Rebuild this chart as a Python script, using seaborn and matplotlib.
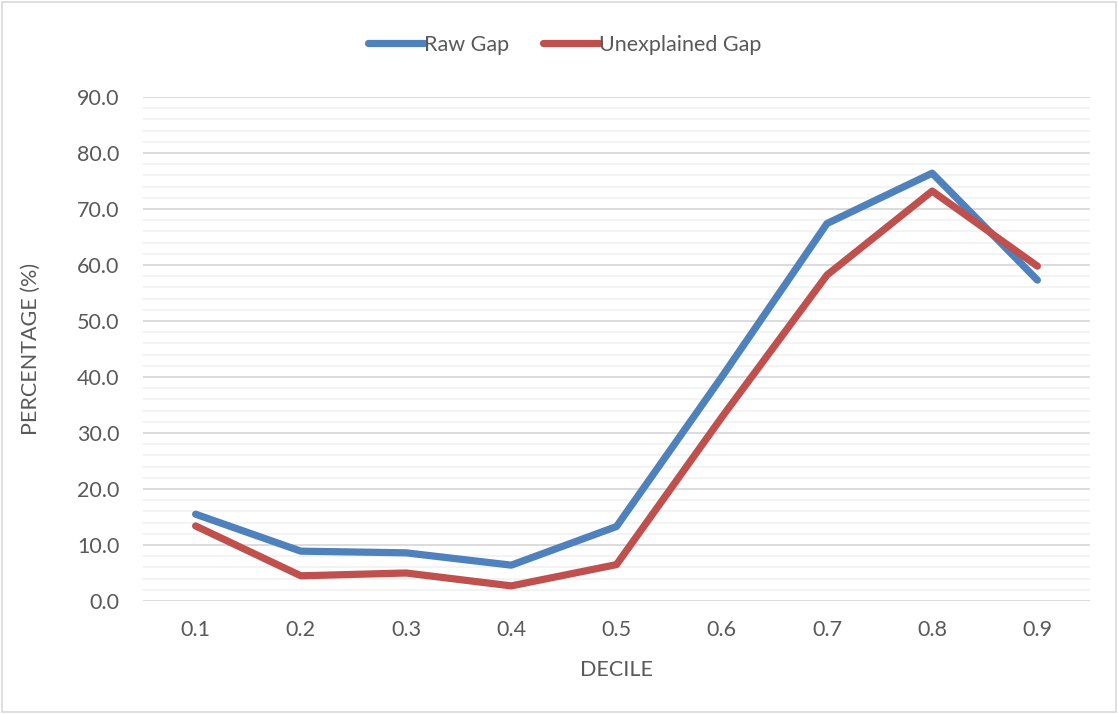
import numpy as np
import pandas as pd
import matplotlib
matplotlib.use("Agg")
import matplotlib.pyplot as plt
import seaborn as sns
from matplotlib.ticker import MultipleLocator
from matplotlib.patches import Rectangle

deciles = ["0.1", "0.2", "0.3", "0.4", "0.5", "0.6", "0.7", "0.8", "0.9"]
raw_gap = [15.5, 8.9, 8.6, 6.4, 13.3, 40.0, 67.4, 76.4, 57.3]
unexplained_gap = [13.4, 4.5, 5.0, 2.7, 6.5, 32.8, 58.2, 73.2, 59.8]

df = pd.DataFrame({
    "decile": deciles * 2,
    "value": raw_gap + unexplained_gap,
    "series": ["Raw Gap"] * len(deciles) + ["Unexplained Gap"] * len(deciles),
})

sns.set_theme(style="white")
plt.rcParams["font.family"] = ["Lato", "DejaVu Sans"]
text_color = "#595959"
fs = 15.5

fig = plt.figure(figsize=(11.18, 7.14), dpi=100)
ax = fig.add_axes([143 / 1118, 1 - 601 / 714, (1090 - 143) / 1118, (601 - 97) / 714])

palette = {"Raw Gap": "#4f81bd", "Unexplained Gap": "#c0504d"}
sns.lineplot(data=df, x="decile", y="value", hue="series", palette=palette,
             linewidth=5.2, solid_capstyle="round", solid_joinstyle="round",
             sort=False, ax=ax, legend=True, zorder=3)

ax.set_xlim(-0.5, len(deciles) - 0.5)
ax.set_ylim(0, 90)
ax.yaxis.set_major_locator(MultipleLocator(10))
ax.yaxis.set_minor_locator(MultipleLocator(2))
ax.yaxis.set_major_formatter(matplotlib.ticker.FormatStrFormatter("%.1f"))
ax.grid(axis="y", which="major", color="#d9d9d9", linewidth=1.3, zorder=0)
ax.grid(axis="y", which="minor", color="#f2f2f2", linewidth=1.3, zorder=0)
ax.set_axisbelow(True)
for s in ax.spines.values():
    s.set_visible(False)
ax.tick_params(axis="both", which="both", length=0, labelsize=fs, colors=text_color)
ax.tick_params(axis="y", pad=17)
ax.tick_params(axis="x", pad=14)

ax.set_xlabel("DECILE", fontsize=fs, color=text_color, labelpad=14)
ax.set_ylabel("PERCENTAGE (%)", fontsize=fs, color=text_color, labelpad=26)

handles, labels = ax.get_legend_handles_labels()
leg = fig.legend(handles, labels, loc="center", bbox_to_anchor=(0.505, 1 - 45 / 714),
                 ncol=2, frameon=False, fontsize=fs, handlelength=2.6,
                 handletextpad=0.0, columnspacing=1.6, labelcolor=text_color)
if ax.get_legend() is not None:
    ax.get_legend().remove()

fig.patches.append(Rectangle((2 / 1118, 2 / 714), 1 - 4 / 1118, 1 - 4 / 714,
                             transform=fig.transFigure, fill=False,
                             edgecolor="#d9d9d9", linewidth=1.2))

fig.savefig("out.png", dpi=100)
